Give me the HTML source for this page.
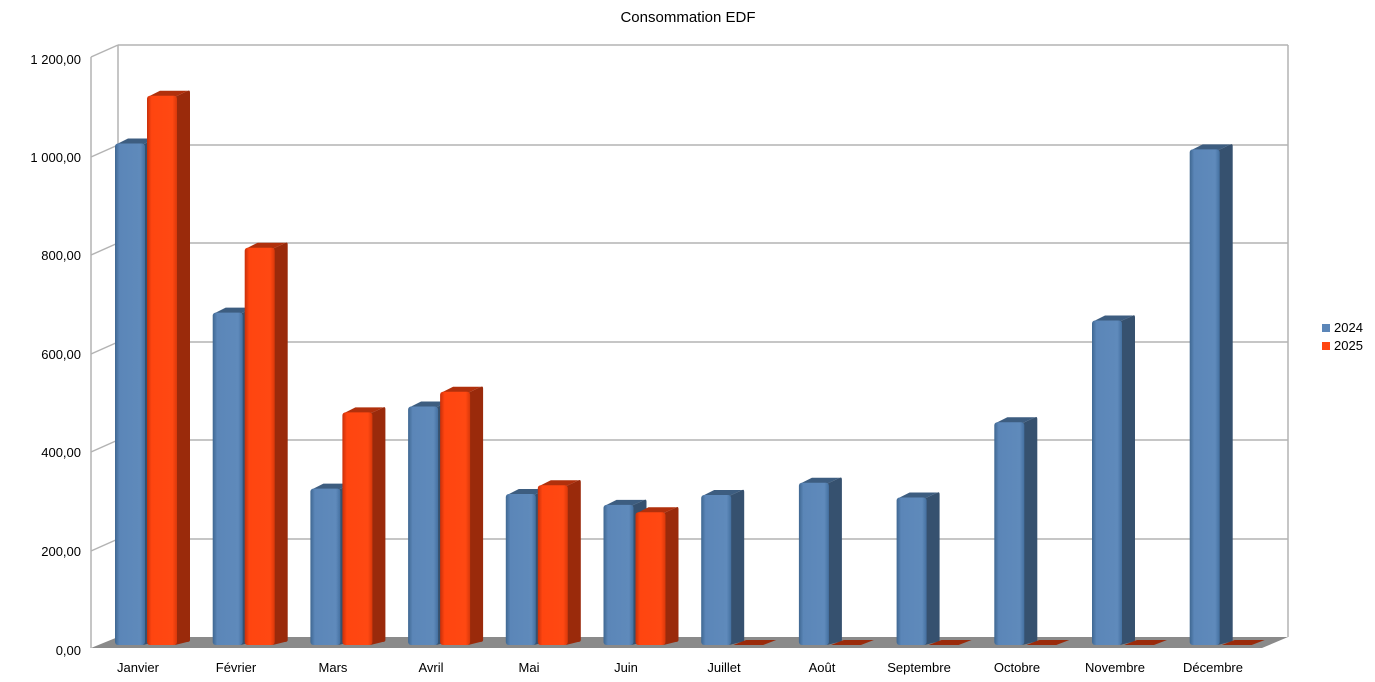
<!DOCTYPE html>
<html><head><meta charset="utf-8"><style>
body{margin:0;background:#fff}
svg{display:block;font-family:"Liberation Sans",sans-serif}
</style></head><body>
<svg id="s" width="1375" height="682" viewBox="0 0 1375 682">
<defs>
<linearGradient id="gb" x1="0" x2="1" y1="0" y2="0"><stop offset="0" stop-color="#3f6791"/><stop offset="0.15" stop-color="#5b86b8"/><stop offset="0.85" stop-color="#5f8abb"/><stop offset="1" stop-color="#4470a0"/></linearGradient>
<linearGradient id="gr" x1="0" x2="1" y1="0" y2="0"><stop offset="0" stop-color="#c8300a"/><stop offset="0.15" stop-color="#ff4510"/><stop offset="0.85" stop-color="#ff4812"/><stop offset="1" stop-color="#d9380a"/></linearGradient>
</defs>
<rect width="1375" height="682" fill="#fff"/>
<text x="688" y="22" font-size="15" text-anchor="middle" fill="#000">Consommation EDF</text>
<!-- floor -->
<polygon points="91,648 1262,648 1288,637 118,637" fill="#8a8a8a"/>
<!-- walls -->
<g stroke="#b3b3b3" stroke-width="1.5" fill="none">
<line x1="118" y1="45" x2="1288" y2="45"/>
<line x1="118" y1="145" x2="1288" y2="145"/>
<line x1="118" y1="243" x2="1288" y2="243"/>
<line x1="118" y1="342" x2="1288" y2="342"/>
<line x1="118" y1="440" x2="1288" y2="440"/>
<line x1="118" y1="539" x2="1288" y2="539"/>
<line x1="118" y1="45" x2="118" y2="637"/>
<line x1="1288" y1="45" x2="1288" y2="637"/>
<line x1="91" y1="57" x2="91" y2="648"/>
<line x1="91" y1="57" x2="118" y2="45"/>
<line x1="91" y1="157" x2="118" y2="145"/>
<line x1="91" y1="255" x2="118" y2="243"/>
<line x1="91" y1="354" x2="118" y2="342"/>
<line x1="91" y1="452" x2="118" y2="440"/>
<line x1="91" y1="551" x2="118" y2="539"/>
</g>
<g font-size="13" fill="#000" text-anchor="end">
<text x="81" y="64">1 200,00</text>
<text x="81" y="162">1 000,00</text>
<text x="81" y="260">800,00</text>
<text x="81" y="359">600,00</text>
<text x="81" y="457">400,00</text>
<text x="81" y="556">200,00</text>
<text x="81" y="655">0,00</text>
</g>
<g id="bars"></g>
<g font-size="13" fill="#000" text-anchor="middle">
<text x="138" y="672">Janvier</text>
<text x="236" y="672">Février</text>
<text x="333" y="672">Mars</text>
<text x="431" y="672">Avril</text>
<text x="529" y="672">Mai</text>
<text x="626" y="672">Juin</text>
<text x="724" y="672">Juillet</text>
<text x="822" y="672">Août</text>
<text x="919" y="672">Septembre</text>
<text x="1017" y="672">Octobre</text>
<text x="1115" y="672">Novembre</text>
<text x="1213" y="672">Décembre</text>
</g>
<rect x="1322" y="324" width="8" height="8" fill="#5b86b8"/>
<rect x="1322" y="342" width="8" height="8" fill="#ff4510"/>
<g font-size="13" fill="#000"><text x="1334" y="332">2024</text><text x="1334" y="350">2025</text></g>
</svg>
<script>
var a=[1020,676,318,485,307,285,305,330,300,453,660,1008];
var b=[1117,808,473,515,325,270,0,0,0,0,0,0];
var h='';
function bar(x,v,f,side,top){
 var yb=645,yt=yb-v*0.4917,w=30,dx=13,dy=6;
 if(v<=0){h+='<polygon points="'+x+','+yb+' '+(x+w)+','+yb+' '+(x+w+dx)+','+(yb-dy+1)+' '+(x+dx)+','+(yb-dy+1)+'" fill="'+side+'"/>';return;}
 h+='<path d="M'+(x+w-2)+','+(yt+1)+' L'+(x+w+dx-2)+','+(yt-dy+1)+' Q'+(x+w+dx)+','+(yt-dy)+' '+(x+w+dx)+','+(yt-dy+3)+' L'+(x+w+dx)+','+(yb-dy+1)+' Q'+(x+w+dx)+','+(yb-dy+3)+' '+(x+w+dx-3)+','+(yb-3)+' L'+(x+w-2)+','+yb+' Z" fill="'+side+'"/>';
 h+='<path d="M'+(x+1)+','+(yt+1)+' L'+(x+dx)+','+(yt-dy+1)+' L'+(x+w+dx-2)+','+(yt-dy+1)+' L'+(x+w-2)+','+(yt+1)+' Z" fill="'+top+'"/>';
 h+='<rect x="'+x+'" y="'+yt+'" width="'+w+'" height="'+(yb-yt)+'" rx="3" fill="'+f+'"/>';
}
for(var i=0;i<12;i++){var c=138+i*97.7;bar(c-23,a[i],'url(#gb)','#36516f','#3d5d80');bar(c+9,b[i],'url(#gr)','#9a2a0b','#b0300c');}
document.getElementById('bars').innerHTML=h;
</script>
</body></html>
